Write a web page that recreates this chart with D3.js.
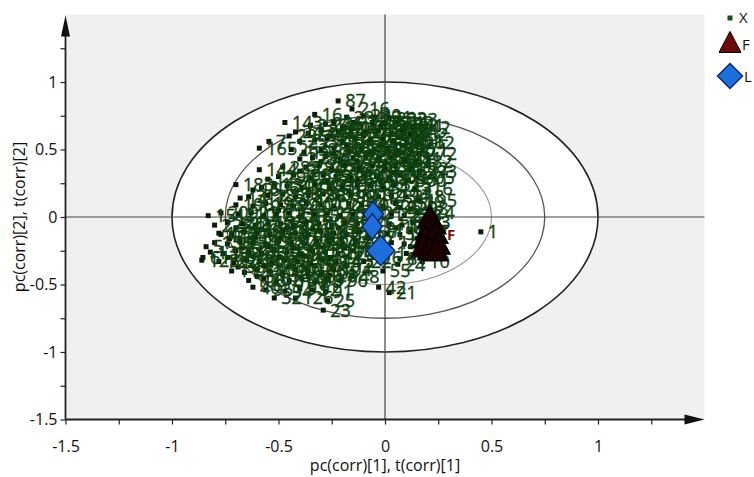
<!DOCTYPE html>
<html><head><meta charset="utf-8">
<script src="https://cdn.jsdelivr.net/npm/d3@7"></script>
<style>body{margin:0;background:#fff}svg{display:block}</style>
</head><body>
<svg id="c" width="754" height="477"></svg>
<script>
// ---- data ----
const axisTicks = [-1.5,-1.25,-1,-0.75,-0.5,-0.25,0,0.25,0.5,0.75,1,1.25];
const majorTicks = [-1.5,-1,-0.5,0,0.5,1];
const ellipseRadii = [1, 0.75, 0.5];
const xTitle = "pc(corr)[1], t(corr)[1]";
const yTitle = "pc(corr)[2], t(corr)[2]";
const legendLabels = ["X","F","L"];
// variables: [label, pc(corr)[1], pc(corr)[2]]
const variables = [
 [230,-0.10,0.75],[231,-0.05,0.74],[232,0.02,0.73],[233,0.07,0.72],[234,-0.18,0.74],
 [235,-0.35,0.68],[236,-0.28,0.69],[237,-0.12,0.69],[238,-0.06,0.70],[239,0.00,0.69],[240,0.05,0.70],[241,0.10,0.68],[242,0.13,0.66],
 [243,-0.42,0.63],[244,-0.36,0.62],[245,-0.30,0.64],[246,-0.22,0.63],[247,-0.16,0.65],[248,-0.09,0.63],[249,-0.03,0.64],[250,0.03,0.62],[251,0.08,0.63],[252,0.12,0.61],
 [253,-0.40,0.56],[254,-0.33,0.57],[255,-0.27,0.58],[256,-0.20,0.56],[257,-0.14,0.58],[258,-0.07,0.57],[259,-0.01,0.58],[260,0.04,0.56],[261,0.10,0.57],[262,0.15,0.55],
 [263,-0.44,0.50],[264,-0.30,0.50],[265,-0.24,0.51],[266,-0.17,0.49],[267,-0.11,0.51],[268,-0.05,0.50],[269,0.01,0.51],[270,0.06,0.49],[271,0.12,0.50],[272,0.16,0.47],
 [273,-0.40,0.43],[274,-0.34,0.44],[275,-0.28,0.45],[276,-0.21,0.43],[277,-0.15,0.44],[278,-0.09,0.45],[279,-0.03,0.43],[280,0.03,0.44],[281,0.09,0.43],[282,0.14,0.41],
 [283,-0.48,0.37],[284,-0.37,0.37],[285,-0.31,0.38],[286,-0.25,0.36],[287,-0.19,0.38],[288,-0.12,0.37],[289,-0.06,0.38],[290,0.00,0.36],[291,0.05,0.38],[292,0.12,0.36],[293,0.16,0.34],
 [294,-0.50,0.30],[295,-0.43,0.31],[296,-0.35,0.29],[297,-0.29,0.31],[298,-0.23,0.30],[299,-0.16,0.29],[301,-0.10,0.31],[302,-0.04,0.30],[303,0.02,0.29],[304,0.07,0.31],[305,0.15,0.29],
 [306,-0.58,0.22],[307,-0.46,0.23],[308,-0.39,0.22],[309,-0.33,0.24],[310,-0.26,0.23],[311,-0.20,0.22],[312,-0.13,0.24],[313,-0.07,0.23],[314,-0.01,0.22],[315,0.04,0.24],[316,0.14,0.21],
 [317,-0.64,0.15],[185,-0.55,0.16],[186,-0.48,0.17],[187,-0.42,0.15],[188,-0.36,0.16],[189,-0.29,0.17],[190,-0.22,0.15],[191,-0.16,0.16],[192,-0.09,0.17],[193,-0.03,0.15],[194,0.03,0.16],[195,0.16,0.12],
 [196,-0.70,0.09],[197,-0.62,0.08],[198,-0.56,0.10],[199,-0.49,0.09],[200,-0.43,0.08],[201,-0.37,0.10],[202,-0.30,0.09],[203,-0.24,0.08],[204,-0.17,0.10],[205,-0.11,0.09],[206,-0.01,0.08],[207,0.05,0.10],[208,0.12,0.06],
 [209,-0.77,0.03],[210,-0.69,0.02],[211,-0.63,0.03],[212,-0.57,0.01],[213,-0.51,0.02],[214,-0.45,0.03],[215,-0.39,0.01],[217,-0.33,0.02],[218,-0.27,0.03],[219,-0.21,0.01],[220,-0.15,0.02],[221,-0.09,0.03],[222,0.03,0.02],[223,0.09,0.01],[224,0.15,0.03],
 [225,-0.80,-0.06],[226,-0.74,-0.04],[227,-0.67,-0.05],[228,-0.61,-0.06],[184,-0.55,-0.04],[182,-0.49,-0.05],[181,-0.43,-0.06],[180,-0.37,-0.04],[179,-0.31,-0.05],[178,-0.25,-0.06],[177,-0.19,-0.04],[176,-0.13,-0.05],[175,0.02,-0.05],[174,0.08,-0.06],[173,0.13,-0.04],
 [172,-0.78,-0.12],[171,-0.72,-0.13],[170,-0.66,-0.11],[169,-0.60,-0.12],[168,-0.54,-0.13],[167,-0.48,-0.11],[166,-0.42,-0.12],[164,-0.36,-0.13],[163,-0.30,-0.11],[162,-0.24,-0.12],[161,-0.18,-0.13],[160,-0.12,-0.11],[159,0.01,-0.12],[158,0.07,-0.13],[157,0.12,-0.11],
 [156,-0.80,-0.19],[155,-0.74,-0.20],[154,-0.68,-0.18],[153,-0.62,-0.19],[152,-0.56,-0.20],[150,-0.50,-0.18],[149,-0.44,-0.19],[148,-0.38,-0.20],[147,-0.32,-0.18],[146,-0.26,-0.19],[145,-0.20,-0.20],[142,-0.14,-0.18],[141,0.03,-0.19],[140,0.09,-0.20],
 [139,-0.82,-0.26],[138,-0.76,-0.27],[137,-0.70,-0.25],[136,-0.64,-0.26],[135,-0.58,-0.27],[133,-0.52,-0.25],[132,-0.46,-0.26],[131,-0.40,-0.27],[130,-0.34,-0.25],[129,-0.28,-0.26],[128,-0.22,-0.27],[127,-0.15,-0.25],[125,0.02,-0.26],[124,0.10,-0.27],
 [123,-0.86,-0.32],[122,-0.78,-0.33],[121,-0.71,-0.34],[120,-0.65,-0.32],[119,-0.59,-0.33],[118,-0.53,-0.34],[117,-0.47,-0.32],[116,-0.41,-0.33],[115,-0.35,-0.34],[114,-0.29,-0.32],[113,-0.23,-0.33],
 [112,-0.72,-0.40],[111,-0.66,-0.41],[110,-0.60,-0.39],[109,-0.54,-0.40],[108,-0.48,-0.41],[107,-0.42,-0.39],[106,-0.36,-0.40],[105,-0.30,-0.41],[104,-0.24,-0.39],
 [103,-0.64,-0.47],[102,-0.57,-0.46],[101,-0.51,-0.48],[100,-0.45,-0.47],[99,-0.39,-0.46],[98,-0.33,-0.48],[97,-0.27,-0.46],[96,-0.21,-0.47],
 [95,-0.56,-0.54],[94,-0.47,-0.55],[93,-0.40,-0.53],[92,-0.34,-0.54],[91,-0.28,-0.55],
 [90,-0.20,0.66],[89,-0.02,0.67],[88,0.09,0.65],[86,-0.26,0.60],[85,-0.10,0.60],[84,0.06,0.59],[83,-0.18,0.53],[82,-0.02,0.54],[80,0.08,0.53],
 [79,-0.24,0.47],[78,-0.07,0.47],[77,0.05,0.46],[76,-0.30,0.41],[75,-0.13,0.41],[74,0.00,0.40],[73,-0.22,0.34],[71,-0.08,0.34],[70,0.04,0.33],
 [69,-0.27,0.27],[68,-0.13,0.27],[67,-0.02,0.26],[66,-0.36,0.20],[65,-0.17,0.19],
 [64,-0.70,-0.08],[63,-0.58,-0.09],[62,-0.46,-0.08],[60,-0.34,-0.09],[59,-0.22,-0.08],[58,-0.73,-0.16],[57,-0.61,-0.15],[56,-0.49,-0.16],[54,-0.37,-0.15],[53,-0.25,-0.16],
 [52,-0.67,-0.23],[51,-0.55,-0.22],[50,-0.43,-0.23],[49,-0.31,-0.22],[47,-0.19,-0.23],[46,-0.74,-0.30],[45,-0.62,-0.29],[43,-0.50,-0.30],[41,-0.38,-0.29],[39,-0.26,-0.30],
 [38,-0.69,-0.37],[37,-0.57,-0.36],[36,-0.45,-0.37],[35,-0.33,-0.36],[34,-0.60,-0.44],[33,-0.48,-0.43],[30,-0.36,-0.44],[28,-0.26,-0.43],
 [27,-0.08,-0.15],[26,-0.05,-0.30],[24,0.06,-0.35],[22,-0.10,-0.33],[20,0.12,-0.22],[18,0.05,-0.08],
 [17,-0.55,0.28],[15,-0.62,0.20],[14,-0.68,0.14],[13,-0.50,0.05],[11,-0.04,-0.10],[3,-0.40,0.34],[4,-0.77,-0.13],[5,-0.84,-0.22],
 [1,0.45,-0.11],[10,0.175,-0.33],[87,-0.22,0.86],[216,-0.155,0.80],[16,-0.33,0.76],[143,-0.47,0.70],[44,-0.24,0.70],[12,-0.15,0.70],
 [7,-0.545,0.56],[29,-0.45,0.60],[165,-0.59,0.51],[19,-0.38,0.48],[144,-0.59,0.35],[183,-0.70,0.24],[134,-0.52,0.24],[151,-0.83,0.01],
 [300,0.11,0.27],[318,0.10,0.15],[229,0.07,0.07],[31,0.09,0.42],[32,-0.52,-0.60],[40,-0.62,-0.52],[23,-0.29,-0.69],[25,-0.27,-0.62],
 [126,-0.42,-0.60],[21,0.02,-0.56],[42,-0.03,-0.52],[55,-0.01,-0.40],[48,-0.155,-0.44],[72,-0.18,-0.36],[81,0.07,-0.31],[61,-0.855,-0.30]
];
// observations, class F (triangles) and class L (diamonds): [t(corr)[1], t(corr)[2]]
const obsF = [[0.21,-0.01],[0.23,-0.06],[0.20,-0.10],[0.24,-0.13],[0.19,-0.16],[0.22,-0.18],[0.25,-0.21],[0.18,-0.23],[0.21,-0.25],[0.24,-0.26]];
const obsL = [[-0.055,0.02],[-0.06,-0.07],[-0.02,-0.25]];

// ---- layout ----
const svg = d3.select("#c");
const x = d3.scaleLinear().domain([-1.5,1.5]).range([65.5,704.5]);
const y = d3.scaleLinear().domain([-1.5,1.5]).range([419.5,14.5]);
const F = "'Open Sans', 'Noto Sans', sans-serif";

svg.append("rect").attr("x",x(-1.5)).attr("y",y(1.5))
  .attr("width",x(1.5)-x(-1.5)).attr("height",y(-1.5)-y(1.5)).attr("fill","#f0f0f0");

// ellipses
const ell = svg.append("g");
ellipseRadii.forEach((r,i)=>{
  ell.append("ellipse").attr("cx",x(0)).attr("cy",y(0))
    .attr("rx",x(r)-x(0)).attr("ry",y(0)-y(r))
    .attr("fill", i===0 ? "#fff" : "none")
    .attr("stroke", ["#222","#555","#999"][i])
    .attr("stroke-width", [1.6,1.3,1.1][i]);
});

// crosshair
svg.append("line").attr("x1",x(0)).attr("x2",x(0)).attr("y1",y(1.5)).attr("y2",y(-1.5)).attr("stroke","#444").attr("stroke-width",1.2);
svg.append("line").attr("x1",x(-1.5)).attr("x2",x(1.5)).attr("y1",y(0)).attr("y2",y(0)).attr("stroke","#444").attr("stroke-width",1.2);

function diamondPath(cx,cy,w,h){return `M${cx},${cy-h}L${cx+w},${cy}L${cx},${cy+h}L${cx-w},${cy}Z`;}
function triPath(cx,cy,w,h){return `M${cx},${cy-h*0.6}L${cx+w/2},${cy+h*0.4}L${cx-w/2},${cy+h*0.4}Z`;}

// variables
const vg = svg.append("g");
vg.selectAll("rect").data(variables).join("rect")
  .attr("x",d=>x(d[1])-2.5).attr("y",d=>y(d[2])-2.5).attr("width",5).attr("height",5)
  .attr("fill","#061f06");
vg.selectAll("text").data(variables).join("text")
  .attr("x",d=>x(d[1])+7).attr("y",d=>y(d[2])).attr("dy","0.36em")
  .attr("font-family","'Liberation Sans Narrow', 'Open Sans', sans-serif").attr("font-size",18)
  .attr("fill","#0f4f0f").attr("stroke","#0a2a0a").attr("stroke-width",0.35).text(d=>d[0]);

// L diamonds
svg.append("g").selectAll("path").data(obsL).join("path")
  .attr("d",(d,i)=>i===2?diamondPath(x(d[0]),y(d[1]),14,15):diamondPath(x(d[0]),y(d[1]),10,13))
  .attr("fill","#1d6fdc").attr("stroke","#0b2a6b").attr("stroke-width",1.5);

// F triangles
svg.append("g").selectAll("text").data(obsF.slice(2,4)).join("text")
  .attr("x",d=>x(d[0])+11).attr("y",d=>y(d[1])).attr("dy","0.36em")
  .attr("font-family",F).attr("font-size",15).attr("font-weight","bold").attr("fill","#7a0f0f").text("F");
svg.append("g").selectAll("path").data(obsF).join("path")
  .attr("d",d=>triPath(x(d[0]),y(d[1]),24,22))
  .attr("fill","#1e0202").attr("stroke","#000").attr("stroke-width",1.2);

// axes
const xAxis = d3.axisBottom(x).tickValues(axisTicks).tickSize(5).tickSizeOuter(0).tickPadding(16)
  .tickFormat(d=>majorTicks.includes(d)?String(d):"");
const gx = svg.append("g").attr("transform",`translate(0,${y(-1.5)})`).call(xAxis);
const yAxis = d3.axisLeft(y).tickValues(axisTicks).tickSize(5).tickSizeOuter(0).tickPadding(3)
  .tickFormat(d=>majorTicks.includes(d)?String(d):"");
const gy = svg.append("g").attr("transform",`translate(${x(-1.5)},0)`).call(yAxis);
[gx,gy].forEach(g=>{
  g.select(".domain").remove();
  g.selectAll(".tick line").attr("stroke","#222").attr("stroke-width",1.2);
  g.selectAll(".tick text").attr("font-family",F).attr("font-size",16).attr("fill","#111");
});
// axis lines with arrows
svg.append("line").attr("x1",x(-1.5)).attr("x2",x(1.5)-18).attr("y1",y(-1.5)).attr("y2",y(-1.5)).attr("stroke","#222").attr("stroke-width",1.8);
svg.append("path").attr("d",`M${x(1.5)},${y(-1.5)}L${x(1.5)-20},${y(-1.5)-5}L${x(1.5)-20},${y(-1.5)+5}Z`).attr("fill","#111");
svg.append("line").attr("x1",x(-1.5)).attr("x2",x(-1.5)).attr("y1",y(-1.5)).attr("y2",y(1.5)+18).attr("stroke","#222").attr("stroke-width",1.8);
svg.append("path").attr("d",`M${x(-1.5)},${y(1.5)+1}L${x(-1.5)-4.5},${y(1.5)+22}L${x(-1.5)+4.5},${y(1.5)+22}Z`).attr("fill","#111");

// titles
svg.append("text").attr("x",x(0)).attr("y",471).attr("text-anchor","middle")
  .attr("font-family",F).attr("font-size",16).attr("fill","#111").text(xTitle);
svg.append("text").attr("transform",`translate(25,${y(0)}) rotate(-90)`).attr("text-anchor","middle")
  .attr("font-family",F).attr("font-size",16).attr("fill","#111").text(yTitle);

// legend
const lg = svg.append("g");
lg.append("rect").attr("x",727.5).attr("y",15.5).attr("width",5).attr("height",5).attr("fill","#1b4d1b");
lg.append("path").attr("d",triPath(730,44,22,21)).attr("fill","#6e0a0a").attr("stroke","#000").attr("stroke-width",1);
lg.append("path").attr("d",diamondPath(730,76,12.5,12.5)).attr("fill","#1d6fdc").attr("stroke","#0b2a6b").attr("stroke-width",1.5);
lg.selectAll("text").data(legendLabels).join("text")
  .attr("x",(d,i)=>[739,742,744][i]).attr("y",(d,i)=>[18,45,77][i]).attr("dy","0.36em")
  .attr("font-family",F).attr("font-size",15).attr("fill","#111").text(d=>d);
</script>
</body></html>
